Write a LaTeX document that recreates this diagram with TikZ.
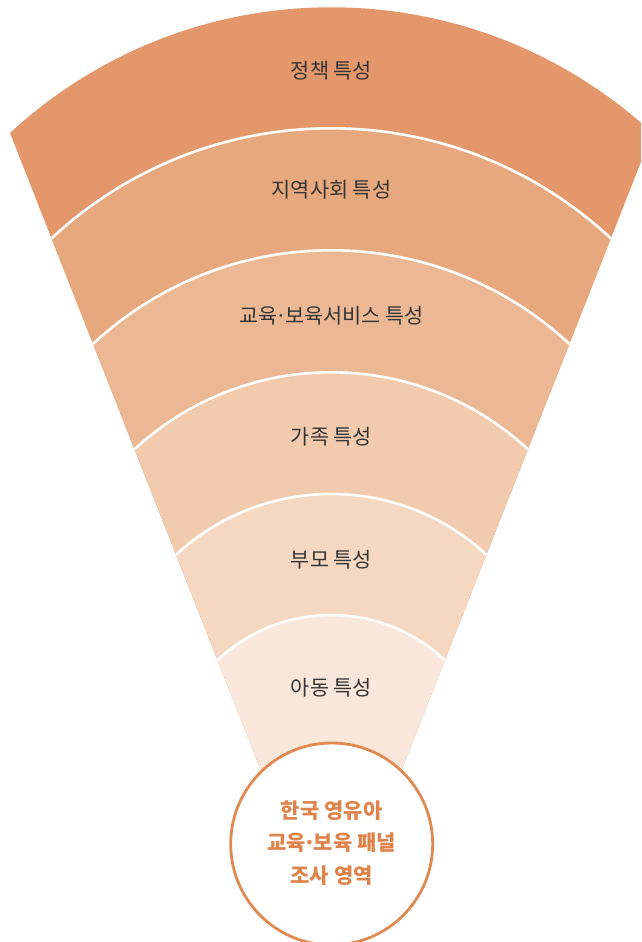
\documentclass[tikz,border=0pt]{standalone}
\usepackage{fontspec}
\setmainfont{Noto Sans CJK KR}
\newcommand\krdot{\makebox[0.36em][c]{·}}
\definecolor{bandA}{HTML}{E4976A}
\definecolor{bandB}{HTML}{E8A87D}
\definecolor{bandC}{HTML}{ECB894}
\definecolor{bandD}{HTML}{F2CAAD}
\definecolor{bandE}{HTML}{F5D7C2}
\definecolor{bandF}{HTML}{FAE7DB}
\definecolor{ringcol}{HTML}{E08A52}
\definecolor{coretext}{HTML}{DF834A}
\definecolor{labtext}{HTML}{353535}
\tikzset{
  bandlabel/.style={text=labtext, font=\fontsize{20.8}{24}\selectfont, inner sep=0pt},
  sepline/.style={draw=white, line width=2.6pt},
  corecircle/.style={circle, draw=ringcol, line width=2.8pt, fill=white, minimum size=202pt, inner sep=0pt},
  coretxt/.style={text=coretext, font=\bfseries\fontsize{21}{32.5}\selectfont, align=center, inner sep=0pt}
}
\begin{document}
\begin{tikzpicture}[x=1pt,y=-1pt]
\useasboundingbox (0,0) rectangle (641,942);
\begin{scope}
  \clip (0,0) rectangle (641,942);
  \clip (-62.1,-50) -- (724.5,-50) -- (331.2,948.3) -- cycle;
  \fill[bandA] (331.2,480.5) circle[radius=473.2pt];
  \fill[bandB] (331.2,538.6) circle[radius=410.3pt];
  \fill[bandC] (331.2,600.2) circle[radius=349.9pt];
  \fill[bandD] (331.2,662.1) circle[radius=289.8pt];
  \fill[bandE] (331.2,722.8) circle[radius=228.8pt];
  \fill[bandF] (331.2,780.6) circle[radius=165.6pt];
  \draw[sepline] (331.2,538.6) circle[radius=410.3pt];
  \draw[sepline] (331.2,600.2) circle[radius=349.9pt];
  \draw[sepline] (331.2,662.1) circle[radius=289.8pt];
  \draw[sepline] (331.2,722.8) circle[radius=228.8pt];
  \draw[sepline] (331.2,780.6) circle[radius=165.6pt];
\end{scope}
\node[bandlabel] (policy) at (331.5,71) {정책 특성};
\node[bandlabel] (community) at (331.5,190) {지역사회 특성};
\node[bandlabel] (service) at (331.5,316) {교육\krdot 보육서비스 특성};
\node[bandlabel] (family) at (331.5,436.5) {가족 특성};
\node[bandlabel] (parent) at (331.5,559.5) {부모 특성};
\node[bandlabel] (child) at (331.5,688) {아동 특성};
\begin{scope}
  \clip (0,0) rectangle (641,942);
  \node[corecircle] (core) at (331.7,844) {};
\end{scope}
\node[coretxt] (coretitle) at (331.7,843) {한국 영유아\\교육\krdot 보육 패널\\조사 영역};
\end{tikzpicture}
\end{document}
